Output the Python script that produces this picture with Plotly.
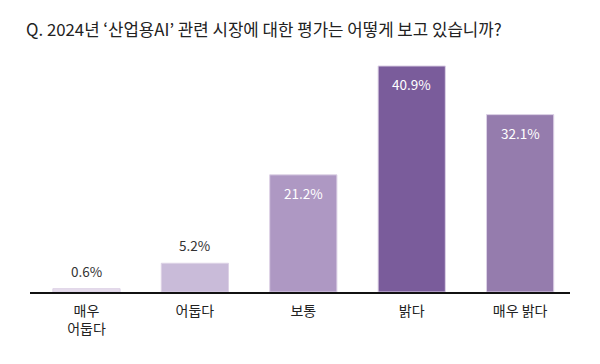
import plotly.graph_objects as go

categories = ["매우<br>어둡다", "어둡다", "보통", "밝다", "매우 밝다"]
values = [0.6, 5.2, 21.2, 40.9, 32.1]
labels = ["0.6%", "5.2%", "21.2%", "40.9%", "32.1%"]
colors = ["#e6dcec", "#c9bbd9", "#ae98c3", "#7a5c9b", "#957cad"]

FONT = "Noto Sans CJK KR"

fig = go.Figure()
fig.add_trace(go.Bar(
    x=categories, y=values,
    marker=dict(color=colors, line=dict(color="#ddd2e6", width=1)),
    width=0.62,
    hoverinfo="skip",
))

for c, v, t in zip(categories, values, labels):
    inside = v > 10
    fig.add_annotation(
        x=c, y=v, text=t, showarrow=False,
        yshift=-18 if inside else 18,
        font=dict(family=FONT, size=13.5, color="white" if inside else "#333333"),
    )

fig.update_layout(
    width=600, height=364,
    margin=dict(l=22, r=38, t=32, b=80),
    paper_bgcolor="white", plot_bgcolor="white",
    showlegend=False,
    font=dict(family=FONT, color="#222222"),
    title=dict(
        text="Q. 2024년 ‘산업용AI’ 관련 시장에 대한 평가는 어떻게 보고 있습니까?",
        x=0, xref="paper", xanchor="left", y=0.94, yanchor="middle",
        font=dict(family=FONT, size=16.8, color="#222222"),
        pad=dict(l=-4),
    ),
    xaxis=dict(
        range=[-0.521, 4.46],
        showline=True, linecolor="#111111", linewidth=2,
        ticks="", tickfont=dict(family=FONT, size=14, color="#222222"),
        ticklabelstandoff=5,
        showgrid=False, fixedrange=True,
    ),
    yaxis=dict(
        range=[0, 45.6], visible=False, showgrid=False, fixedrange=True,
    ),
    bargap=0.38,
)

fig.write_html("out.html")
